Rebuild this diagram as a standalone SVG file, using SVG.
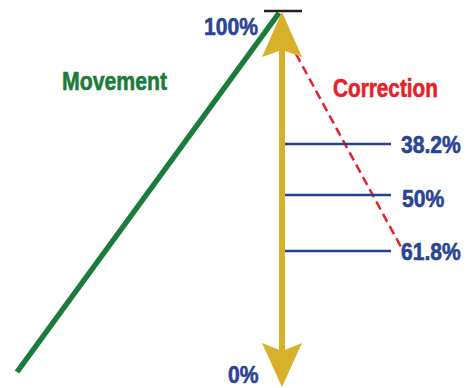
<svg xmlns="http://www.w3.org/2000/svg" width="466" height="388" viewBox="0 0 466 388">
<style>
.lbl{font-family:"Liberation Sans",Arial,sans-serif;font-weight:bold;font-size:24px;stroke-width:0.6px}
.pct{fill:#2A4494;stroke:#2A4494}
.lvl{stroke:#263F8E;stroke-width:2.5;fill:none}
</style>
<rect width="466" height="388" fill="#fff"/>
<g id="connectors">
<line x1="17" y1="372" x2="279" y2="13" stroke="#1B7B3A" stroke-width="5.5" stroke-linecap="butt"/>
<line x1="296" y1="54" x2="401" y2="247" stroke="#E8202A" stroke-width="2.5" stroke-dasharray="9,5"/>
</g>
<g id="levels">
<line class="lvl" x1="284" y1="144" x2="391" y2="144"/>
<line class="lvl" x1="284" y1="195" x2="391" y2="195"/>
<line class="lvl" x1="284" y1="251" x2="391" y2="251"/>
</g>
<g id="arrow">
<line x1="282" y1="48" x2="282" y2="353" stroke="#D8B12B" stroke-width="6"/>
<polygon points="282,12 302,57 282,50 262,57" fill="#D8B12B"/>
<polygon points="282,387 302,343 282,351 262,343" fill="#D8B12B"/>
<line x1="264" y1="11" x2="302" y2="11" stroke="#231F20" stroke-width="2.5"/>
</g>
<g id="labels">
<text class="lbl pct" transform="translate(204,35) scale(0.88,1)">100%</text>
<text class="lbl pct" transform="translate(228,383) scale(0.88,1)">0%</text>
<text class="lbl pct" transform="translate(401,153) scale(0.88,1)">38.2%</text>
<text class="lbl pct" transform="translate(402,207) scale(0.88,1)">50%</text>
<text class="lbl pct" transform="translate(401,260) scale(0.88,1)">61.8%</text>
<text class="lbl" transform="translate(62,90) scale(0.85,1)" fill="#1B7B3A" stroke="#1B7B3A" style="font-size:25px">Movement</text>
<text class="lbl" transform="translate(333,97) scale(0.83,1)" fill="#E8202A" stroke="#E8202A" style="font-size:25px">Correction</text>
</g>
</svg>
